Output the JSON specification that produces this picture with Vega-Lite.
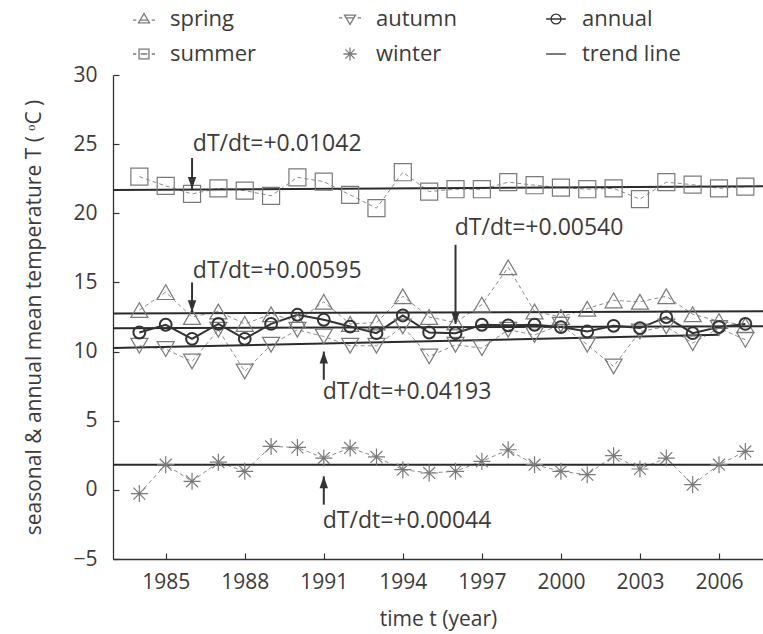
{
  "$schema": "https://vega.github.io/schema/vega-lite/v6.json",
  "width": 650,
  "height": 484,
  "autosize": {"type": "none"},
  "padding": {"left": 113, "top": 75, "right": 0, "bottom": 75},
  "background": "white",
  "config": {
    "font": "Open Sans",
    "view": {"stroke": null},
    "axis": {
      "grid": false,
      "domainColor": "#333333",
      "domainWidth": 1.3,
      "tickColor": "#333333",
      "tickSize": -6,
      "tickWidth": 1.2,
      "labelFont": "Open Sans",
      "labelFontSize": 21,
      "labelColor": "#3d3a3a",
      "titleFont": "Open Sans",
      "titleFontSize": 21,
      "titleFontWeight": "normal",
      "titleColor": "#3d3a3a"
    }
  },
  "datasets": {
    "temps": [
      {"year": 1984, "series": "spring", "T": 13.0},
      {"year": 1985, "series": "spring", "T": 14.3},
      {"year": 1986, "series": "spring", "T": 12.5},
      {"year": 1987, "series": "spring", "T": 12.9},
      {"year": 1988, "series": "spring", "T": 12.0},
      {"year": 1989, "series": "spring", "T": 12.7},
      {"year": 1990, "series": "spring", "T": 12.2},
      {"year": 1991, "series": "spring", "T": 13.6},
      {"year": 1992, "series": "spring", "T": 12.0},
      {"year": 1993, "series": "spring", "T": 12.1},
      {"year": 1994, "series": "spring", "T": 14.0},
      {"year": 1995, "series": "spring", "T": 12.5},
      {"year": 1996, "series": "spring", "T": 12.1},
      {"year": 1997, "series": "spring", "T": 13.4},
      {"year": 1998, "series": "spring", "T": 16.1},
      {"year": 1999, "series": "spring", "T": 12.9},
      {"year": 2000, "series": "spring", "T": 12.5},
      {"year": 2001, "series": "spring", "T": 13.1},
      {"year": 2002, "series": "spring", "T": 13.7},
      {"year": 2003, "series": "spring", "T": 13.6},
      {"year": 2004, "series": "spring", "T": 14.0},
      {"year": 2005, "series": "spring", "T": 12.7},
      {"year": 2006, "series": "spring", "T": 12.2},
      {"year": 2007, "series": "spring", "T": 11.9},
      {"year": 1984, "series": "summer", "T": 22.65},
      {"year": 1985, "series": "summer", "T": 21.98},
      {"year": 1986, "series": "summer", "T": 21.4},
      {"year": 1987, "series": "summer", "T": 21.8},
      {"year": 1988, "series": "summer", "T": 21.64},
      {"year": 1989, "series": "summer", "T": 21.26},
      {"year": 1990, "series": "summer", "T": 22.6},
      {"year": 1991, "series": "summer", "T": 22.29},
      {"year": 1992, "series": "summer", "T": 21.33},
      {"year": 1993, "series": "summer", "T": 20.37},
      {"year": 1994, "series": "summer", "T": 22.97},
      {"year": 1995, "series": "summer", "T": 21.57},
      {"year": 1996, "series": "summer", "T": 21.74},
      {"year": 1997, "series": "summer", "T": 21.74},
      {"year": 1998, "series": "summer", "T": 22.25},
      {"year": 1999, "series": "summer", "T": 22.03},
      {"year": 2000, "series": "summer", "T": 21.86},
      {"year": 2001, "series": "summer", "T": 21.74},
      {"year": 2002, "series": "summer", "T": 21.8},
      {"year": 2003, "series": "summer", "T": 21.02},
      {"year": 2004, "series": "summer", "T": 22.25},
      {"year": 2005, "series": "summer", "T": 22.07},
      {"year": 2006, "series": "summer", "T": 21.8},
      {"year": 2007, "series": "summer", "T": 21.93},
      {"year": 1984, "series": "autumn", "T": 10.42},
      {"year": 1985, "series": "autumn", "T": 10.18},
      {"year": 1986, "series": "autumn", "T": 9.28},
      {"year": 1987, "series": "autumn", "T": 11.58},
      {"year": 1988, "series": "autumn", "T": 8.56},
      {"year": 1989, "series": "autumn", "T": 10.49},
      {"year": 1990, "series": "autumn", "T": 11.58},
      {"year": 1991, "series": "autumn", "T": 11.09},
      {"year": 1992, "series": "autumn", "T": 10.42},
      {"year": 1993, "series": "autumn", "T": 10.42},
      {"year": 1994, "series": "autumn", "T": 11.81},
      {"year": 1995, "series": "autumn", "T": 9.65},
      {"year": 1996, "series": "autumn", "T": 10.49},
      {"year": 1997, "series": "autumn", "T": 10.25},
      {"year": 1998, "series": "autumn", "T": 11.58},
      {"year": 1999, "series": "autumn", "T": 11.2},
      {"year": 2000, "series": "autumn", "T": 11.94},
      {"year": 2001, "series": "autumn", "T": 10.49},
      {"year": 2002, "series": "autumn", "T": 8.92},
      {"year": 2003, "series": "autumn", "T": 11.45},
      {"year": 2004, "series": "autumn", "T": 11.81},
      {"year": 2005, "series": "autumn", "T": 10.61},
      {"year": 2006, "series": "autumn", "T": 11.7},
      {"year": 2007, "series": "autumn", "T": 10.85},
      {"year": 1984, "series": "winter", "T": -0.27},
      {"year": 1985, "series": "winter", "T": 1.82},
      {"year": 1986, "series": "winter", "T": 0.62},
      {"year": 1987, "series": "winter", "T": 2.0},
      {"year": 1988, "series": "winter", "T": 1.34},
      {"year": 1989, "series": "winter", "T": 3.14},
      {"year": 1990, "series": "winter", "T": 3.07},
      {"year": 1991, "series": "winter", "T": 2.3},
      {"year": 1992, "series": "winter", "T": 3.03},
      {"year": 1993, "series": "winter", "T": 2.38},
      {"year": 1994, "series": "winter", "T": 1.46},
      {"year": 1995, "series": "winter", "T": 1.22},
      {"year": 1996, "series": "winter", "T": 1.34},
      {"year": 1997, "series": "winter", "T": 2.06},
      {"year": 1998, "series": "winter", "T": 2.9},
      {"year": 1999, "series": "winter", "T": 1.82},
      {"year": 2000, "series": "winter", "T": 1.34},
      {"year": 2001, "series": "winter", "T": 1.1},
      {"year": 2002, "series": "winter", "T": 2.47},
      {"year": 2003, "series": "winter", "T": 1.51},
      {"year": 2004, "series": "winter", "T": 2.3},
      {"year": 2005, "series": "winter", "T": 0.38},
      {"year": 2006, "series": "winter", "T": 1.82},
      {"year": 2007, "series": "winter", "T": 2.78},
      {"year": 1984, "series": "annual", "T": 11.38},
      {"year": 1985, "series": "annual", "T": 11.94},
      {"year": 1986, "series": "annual", "T": 10.92},
      {"year": 1987, "series": "annual", "T": 12.0},
      {"year": 1988, "series": "annual", "T": 10.92},
      {"year": 1989, "series": "annual", "T": 12.0},
      {"year": 1990, "series": "annual", "T": 12.66},
      {"year": 1991, "series": "annual", "T": 12.3},
      {"year": 1992, "series": "annual", "T": 11.81},
      {"year": 1993, "series": "annual", "T": 11.33},
      {"year": 1994, "series": "annual", "T": 12.61},
      {"year": 1995, "series": "annual", "T": 11.38},
      {"year": 1996, "series": "annual", "T": 11.33},
      {"year": 1997, "series": "annual", "T": 11.94},
      {"year": 1998, "series": "annual", "T": 11.9},
      {"year": 1999, "series": "annual", "T": 11.94},
      {"year": 2000, "series": "annual", "T": 11.77},
      {"year": 2001, "series": "annual", "T": 11.45},
      {"year": 2002, "series": "annual", "T": 11.86},
      {"year": 2003, "series": "annual", "T": 11.7},
      {"year": 2004, "series": "annual", "T": 12.49},
      {"year": 2005, "series": "annual", "T": 11.33},
      {"year": 2006, "series": "annual", "T": 11.77},
      {"year": 2007, "series": "annual", "T": 12.0}
    ],
    "trend": [
      {"series": "summer", "year": 1983, "T": 21.69},
      {"series": "summer", "year": 2007.67, "T": 21.947},
      {"series": "spring", "year": 1983, "T": 12.76},
      {"series": "spring", "year": 2007.67, "T": 12.907},
      {"series": "annual", "year": 1983, "T": 11.69},
      {"series": "annual", "year": 2007.67, "T": 11.823},
      {"series": "autumn", "year": 1983, "T": 10.25},
      {"series": "autumn", "year": 2006, "T": 11.214},
      {"series": "winter", "year": 1983, "T": 1.81},
      {"series": "winter", "year": 2007.67, "T": 1.821}
    ],
    "notes": [
      {"label": "dT/dt=+0.01042", "tx": 1986.03, "ty": 24.51, "ax": 1986, "tail": 24.0, "tip": 21.75, "dir": "down"},
      {"label": "dT/dt=+0.00595", "tx": 1986.03, "ty": 15.3, "ax": 1986, "tail": 15.0, "tip": 12.85, "dir": "down"},
      {"label": "dT/dt=+0.00540", "tx": 1995.97, "ty": 18.44, "ax": 1996, "tail": 17.72, "tip": 12.0, "dir": "down"},
      {"label": "dT/dt=+0.04193", "tx": 1990.96, "ty": 6.59, "ax": 1991, "tail": 7.96, "tip": 10.0, "dir": "up"},
      {"label": "dT/dt=+0.00044", "tx": 1990.96, "ty": -2.73, "ax": 1991, "tail": -1.07, "tip": 0.98, "dir": "up"}
    ],
    "keys": [
      {"series": "spring"}, {"series": "summer"}, {"series": "autumn"},
      {"series": "winter"}, {"series": "annual"}, {"series": "trend line"}
    ]
  },
  "resolve": {"scale": {"shape": "independent", "color": "independent"}},
  "layer": [
    {
      "data": {"name": "temps"},
      "transform": [{"filter": "datum.series !== 'annual'"}],
      "mark": {"type": "line", "color": "#8c8c8c", "strokeWidth": 1, "strokeDash": [4, 3]},
      "encoding": {
        "x": {"field": "year", "type": "quantitative", "scale": {"domain": [1983, 2007.67], "nice": false, "zero": false},
              "axis": {"values": [1985, 1988, 1991, 1994, 1997, 2000, 2003, 2006], "format": "d", "labelPadding": 18, "title": "time t  (year)", "titlePadding": 16}},
        "y": {"field": "T", "type": "quantitative", "scale": {"domain": [-5, 30], "nice": false, "zero": false},
              "axis": {"values": [-5, 0, 5, 10, 15, 20, 25, 30], "labelPadding": 22, "title": "seasonal & annual mean temperature T ( ᵒC )", "titlePadding": 28}},
        "detail": {"field": "series"}
      }
    },
    {
      "data": {"name": "trend"},
      "mark": {"type": "line", "color": "#2b2b2b", "strokeWidth": 2},
      "encoding": {
        "x": {"field": "year", "type": "quantitative"},
        "y": {"field": "T", "type": "quantitative"},
        "detail": {"field": "series"}
      }
    },
    {
      "data": {"name": "temps"},
      "transform": [{"filter": "datum.series === 'annual'"}],
      "mark": {"type": "line", "color": "#333333", "strokeWidth": 2},
      "encoding": {
        "x": {"field": "year", "type": "quantitative"},
        "y": {"field": "T", "type": "quantitative"}
      }
    },
    {
      "data": {"name": "temps"},
      "transform": [{"filter": "datum.series !== 'annual'"}],
      "mark": {"type": "point", "filled": false, "color": "#7a7a7a", "strokeWidth": 1.2, "size": 290, "opacity": 1},
      "encoding": {
        "x": {"field": "year", "type": "quantitative"},
        "y": {"field": "T", "type": "quantitative"},
        "shape": {"field": "series", "type": "nominal", "legend": null,
                  "scale": {"domain": ["spring", "summer", "autumn", "winter"],
                            "range": ["triangle-up", "square", "triangle-down", "M-1,0L1,0M0,-1L0,1M-0.7,-0.7L0.7,0.7M-0.7,0.7L0.7,-0.7"]}}
      }
    },
    {
      "data": {"name": "temps"},
      "transform": [{"filter": "datum.series === 'annual'"}],
      "mark": {"type": "point", "shape": "circle", "filled": false, "color": "#333333", "strokeWidth": 2, "size": 140, "opacity": 1},
      "encoding": {
        "x": {"field": "year", "type": "quantitative"},
        "y": {"field": "T", "type": "quantitative"}
      }
    },
    {
      "data": {"name": "notes"},
      "mark": {"type": "rule", "color": "#333333", "strokeWidth": 2},
      "encoding": {
        "x": {"field": "ax", "type": "quantitative"},
        "y": {"field": "tail", "type": "quantitative"},
        "y2": {"field": "tip"}
      }
    },
    {
      "data": {"name": "notes"},
      "mark": {"type": "point", "filled": true, "color": "#333333", "size": 576, "opacity": 1, "strokeWidth": 0},
      "encoding": {
        "x": {"field": "ax", "type": "quantitative"},
        "y": {"field": "tip", "type": "quantitative"},
        "shape": {"field": "dir", "type": "nominal", "legend": null,
                  "scale": {"domain": ["down", "up"], "range": ["M-0.35,-1L0.35,-1L0,0Z", "M-0.35,1L0.35,1L0,0Z"]}}
      }
    },
    {
      "data": {"name": "notes"},
      "mark": {"type": "text", "align": "left", "baseline": "alphabetic", "fontSize": 23, "color": "#3d3a3a"},
      "encoding": {
        "x": {"field": "tx", "type": "quantitative"},
        "y": {"field": "ty", "type": "quantitative"},
        "text": {"field": "label"}
      }
    },
    {
      "data": {"name": "keys"},
      "transform": [{"filter": "false"}],
      "mark": {"type": "point", "filled": false, "opacity": 1},
      "encoding": {
        "shape": {"field": "series", "type": "nominal",
                  "scale": {"domain": ["spring", "summer", "autumn", "winter", "annual", "trend line"],
                            "range": [
                              "M-0.5,0.35L0,-0.5L0.5,0.35ZM-1,0.1L-0.7,0.1M-0.35,0.1L0.35,0.1M0.7,0.1L1,0.1",
                              "M-0.45,-0.45L0.45,-0.45L0.45,0.45L-0.45,0.45ZM-1,0L-0.7,0M-0.3,0L0.3,0M0.7,0L1,0",
                              "M-0.5,-0.35L0.5,-0.35L0,0.5ZM-1,-0.1L-0.7,-0.1M-0.35,-0.1L0.35,-0.1M0.7,-0.1L1,-0.1",
                              "M-0.6,0L0.6,0M0,-0.6L0,0.6M-0.42,-0.42L0.42,0.42M-0.42,0.42L0.42,-0.42",
                              "M-0.45,0A0.45,0.45 0 1,0 0.45,0A0.45,0.45 0 1,0 -0.45,0M-0.9,0L0.9,0",
                              "M-0.9,0L0.9,0"
                            ]},
                  "legend": {
                    "orient": "none", "legendX": 19, "legendY": -68, "title": null,
                    "columns": 3, "gridAlign": "all", "columnPadding": 67, "rowPadding": 12,
                    "padding": 0, "symbolSize": 484, "symbolStrokeWidth": 1.3, "symbolFillColor": "transparent",
                    "labelFontSize": 22, "labelColor": "#3d3a3a", "labelOffset": 14, "labelLimit": 200,
                    "encode": {"symbols": {"update": {"strokeWidth": {"signal": "datum.value === 'annual' || datum.value === 'trend line' ? 2 : 1.2"}}}}
                  }},
        "color": {"field": "series", "type": "nominal",
                  "scale": {"domain": ["spring", "summer", "autumn", "winter", "annual", "trend line"],
                            "range": ["#7a7a7a", "#7a7a7a", "#7a7a7a", "#7a7a7a", "#333333", "#333333"]}}
      }
    }
  ]
}
